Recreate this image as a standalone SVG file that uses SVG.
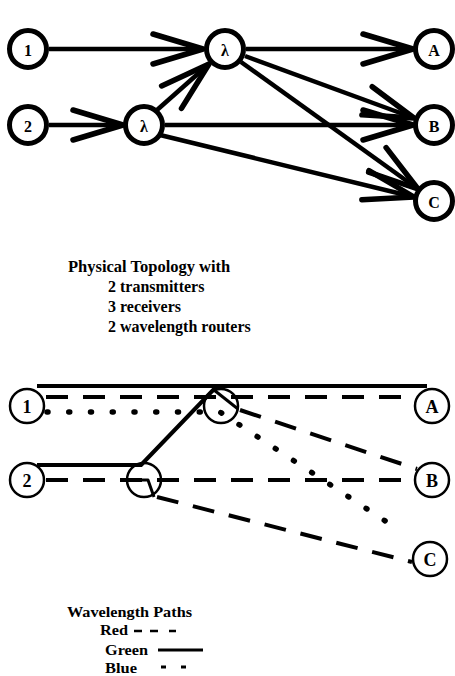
<svg xmlns="http://www.w3.org/2000/svg" width="455" height="676" viewBox="0 0 455 676">
<style>
.bg{fill:#fff}
.tn{fill:#fff;stroke:#000;stroke-width:5}
.bn{fill:#fff;stroke:#000;stroke-width:2.5}
.br{fill:none;stroke:#000;stroke-width:2.5}
.tl{font-family:"Liberation Serif",serif;font-weight:bold;font-size:16px;text-anchor:middle;dominant-baseline:central;fill:#000}
.bl{font-family:"Liberation Serif",serif;font-weight:bold;font-size:18px;text-anchor:middle;dominant-baseline:central;fill:#000}
.arr{fill:none;stroke:#000;stroke-width:4.5;marker-end:url(#chev)}
.green{fill:none;stroke:#000;stroke-width:4;stroke-linejoin:round}
.red{fill:none;stroke:#000;stroke-width:4;stroke-dasharray:22 15}
.blue{fill:none;stroke:#000;stroke-width:5.5;stroke-linecap:round;stroke-dasharray:1 20.75}
.inner{fill:none;stroke:#000;stroke-width:3;stroke-linejoin:round}
.head{font-family:"Liberation Serif",serif;font-weight:bold;font-size:16px;fill:#000}
.leg{font-family:"Liberation Serif",serif;font-weight:bold;font-size:14.5px;fill:#000}
</style>
<defs>
<marker id="chev" markerUnits="userSpaceOnUse" viewBox="-58 -20 62 40" markerWidth="62" markerHeight="40" refX="0" refY="0" orient="auto" overflow="visible">
<path d="M-50,-15 L0,0 L-50,15" fill="none" stroke="#000" stroke-width="5.5" stroke-linecap="round" stroke-linejoin="round"/>
</marker>
</defs>
<rect class="bg" x="0" y="0" width="455" height="676"/>

<!-- top diagram connectors -->
<g id="top-connectors">
<path class="arr" d="M49,49 L203,49"/>
<path class="arr" d="M246,49 L413,49"/>
<path class="arr" d="M49,125 L123,125"/>
<path class="arr" d="M157,110 L209,64"/>
<path class="arr" d="M245,56 L414,118"/>
<path class="arr" d="M241,62 L418,189"/>
<path class="arr" d="M165,125 L413,125"/>
<path class="arr" d="M160,135 L414,197"/>
</g>

<g id="t-1"><circle class="tn" cx="28" cy="49" r="18.5"/><text class="tl" x="28" y="50">1</text></g>
<g id="t-2"><circle class="tn" cx="28" cy="125" r="18.5"/><text class="tl" x="28" y="126">2</text></g>
<g id="t-r1"><circle class="tn" cx="225" cy="49" r="18.5"/><text class="tl" x="225" y="50">λ</text></g>
<g id="t-r2"><circle class="tn" cx="144" cy="125" r="18.5"/><text class="tl" x="144" y="126">λ</text></g>
<g id="t-A"><circle class="tn" cx="434" cy="49" r="18.5"/><text class="tl" x="434" y="50">A</text></g>
<g id="t-B"><circle class="tn" cx="434" cy="125" r="18.5"/><text class="tl" x="434" y="126">B</text></g>
<g id="t-C"><circle class="tn" cx="434" cy="201" r="18.5"/><text class="tl" x="434" y="202">C</text></g>

<!-- caption -->
<g id="caption">
<text class="head" x="68" y="272" style="font-size:16.5px">Physical Topology with</text>
<text class="head" x="108" y="292">2 transmitters</text>
<text class="head" x="108" y="312">3 receivers</text>
<text class="head" x="108" y="332">2 wavelength routers</text>
</g>

<!-- bottom diagram connectors -->
<g id="bottom-connectors">
<path class="green" d="M37,386 L427,386"/>
<path class="green" d="M37,465 L141,465 L217,386"/>
<path class="inner" d="M214,390 L238,409"/>
<path class="inner" d="M128,480 L148,480 L154,497"/>
<path class="red" d="M46,397 L416,397"/>
<path class="red" d="M240,410 L417,469"/>
<path class="red" d="M46,480 L415,480"/>
<path class="red" d="M157,497 L412,562"/>
<path class="blue" d="M47,412 L220,412 L402,532"/>
</g>

<g id="b-1"><circle class="bn" cx="27" cy="406" r="17"/><text class="bl" x="27" y="407">1</text></g>
<g id="b-2"><circle class="bn" cx="27" cy="480" r="17"/><text class="bl" x="27" y="481">2</text></g>
<g id="b-r1"><circle class="br" cx="221" cy="406" r="17"/></g>
<g id="b-r2"><circle class="br" cx="144" cy="480" r="17"/></g>
<g id="b-A"><circle class="bn" cx="432" cy="406" r="17"/><text class="bl" x="432" y="407">A</text></g>
<g id="b-B"><circle class="bn" cx="432" cy="480" r="17"/><text class="bl" x="432" y="481">B</text></g>
<g id="b-C"><circle class="bn" cx="430" cy="559" r="17"/><text class="bl" x="430" y="560">C</text></g>

<!-- legend -->
<g id="legend">
<text class="leg" x="67" y="617" textLength="125" lengthAdjust="spacingAndGlyphs">Wavelength Paths</text>
<text class="leg" x="100" y="635" textLength="28" lengthAdjust="spacingAndGlyphs">Red</text>
<path d="M134,631 H142 M150,631 H158 M169,631 H176" stroke="#000" stroke-width="2.5" fill="none"/>
<text class="leg" x="105" y="655" textLength="43" lengthAdjust="spacingAndGlyphs">Green</text>
<path d="M158,650 H203" stroke="#000" stroke-width="3" fill="none"/>
<text class="leg" x="105" y="673" textLength="32" lengthAdjust="spacingAndGlyphs">Blue</text>
<path d="M161,667 H166 M181,667 H186" stroke="#000" stroke-width="3" fill="none"/>
</g>
</svg>
